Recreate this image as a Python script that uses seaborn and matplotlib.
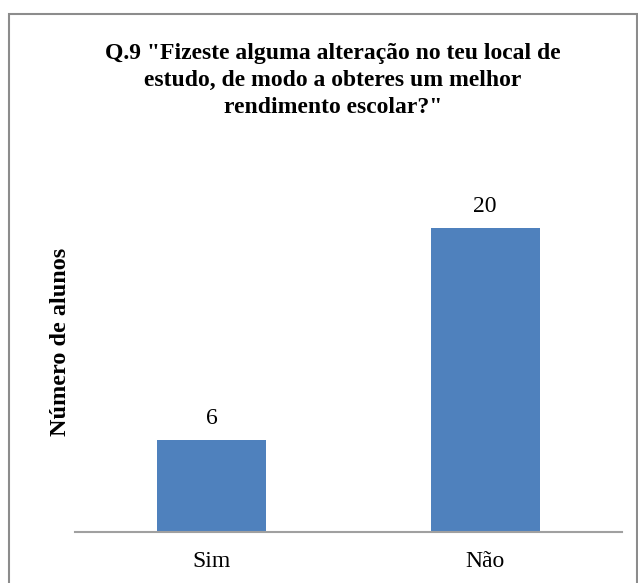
import matplotlib
matplotlib.use("Agg")
import matplotlib.pyplot as plt
import seaborn as sns
import pandas as pd
from matplotlib.patches import Rectangle

categories = ["Sim", "Não"]
values = [6, 20]
title = 'Q.9 "Fizeste alguma alteração no teu local de\nestudo, de modo a obteres um melhor\nrendimento escolar?"'
ylabel = "Número de alunos"

sns.set_style("white")
plt.rcParams["font.family"] = ["Liberation Serif", "DejaVu Serif"]
plt.rcParams["text.color"] = "black"
plt.rcParams["xtick.color"] = "black"

W, H = 638, 583
fig = plt.figure(figsize=(W / 100, H / 100), dpi=100)

# plot area in pixel coordinates
left, right, bottom, top = 75, 622, 531.5, 152
ax = fig.add_axes([left / W, (H - bottom) / H, (right - left) / W, (bottom - top) / H])

df = pd.DataFrame({"cat": categories, "val": values})
sns.barplot(data=df, x="cat", y="val", ax=ax, color="#4F81BD", width=0.4,
            saturation=1, edgecolor="none")

ax.set_xlim(-0.5, 1.5)
ax.set_ylim(0, 25)
for s in ["top", "right", "left"]:
    ax.spines[s].set_visible(False)
ax.spines["bottom"].set_color("#A0A0A0")
ax.spines["bottom"].set_linewidth(1.5)
ax.set_yticks([])
ax.tick_params(axis="x", length=0, pad=14, labelsize=17, labelcolor="black")
ax.set_xlabel("")
ax.set_ylabel("")

for i, v in enumerate(values):
    ax.annotate(str(v), (i, v), xytext=(0, 8), textcoords="offset points",
                ha="center", va="bottom", fontsize=17, color="black")

fig.text(333 / W, 1 - 43 / H, title, ha="center", va="top", fontsize=17,
         fontweight="bold", linespacing=1.36, color="black")
fig.text(60 / W, 1 - 342 / H, ylabel, ha="center", va="center", rotation=90,
         fontsize=17.5, fontweight="bold", color="black")

# chart frame
fig.patches.append(Rectangle((9 / W, -0.05), (W - 10) / W, 1.05 - 14 / H,
                             transform=fig.transFigure, fill=False,
                             edgecolor="#8C8C8C", linewidth=1.5))

fig.savefig("out.png", dpi=100)
